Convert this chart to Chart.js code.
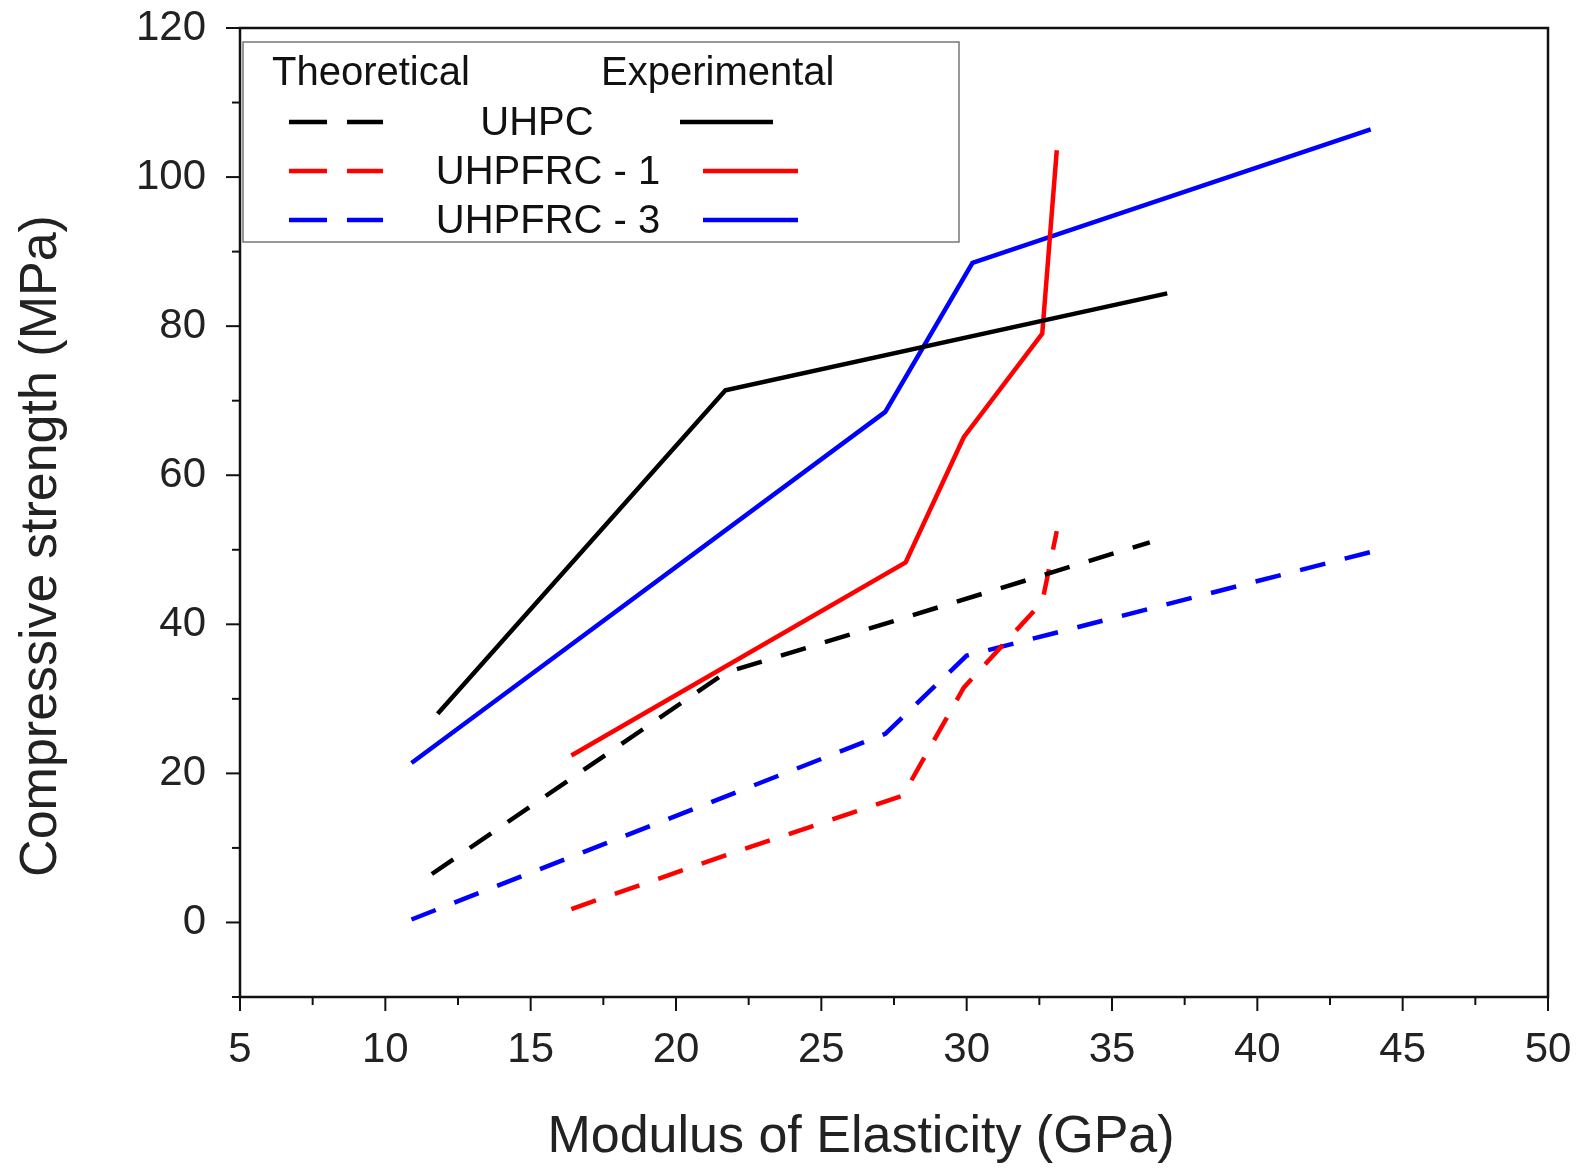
<!DOCTYPE html>
<html>
<head>
<meta charset="utf-8">
<script src="https://cdn.jsdelivr.net/npm/chart.js@4.4.0/dist/chart.umd.min.js"></script>
<style>
  html, body { margin: 0; padding: 0; background: #fff; }
  #wrap { width: 1579px; height: 1170px; }
</style>
</head>
<body>
<div id="wrap"><canvas id="strengthChart"></canvas></div>
<script>
// modulus of elasticity (GPa) and compressive strength (MPa)
var expUhpcE = [11.8, 21.7, 36.9];
var expUhpcF = [28.0, 71.4, 84.4];
var expFrc1E = [16.4, 27.9, 29.9, 32.6, 33.1];
var expFrc1F = [22.4, 48.3, 65.1, 79.0, 103.6];
var expFrc3E = [10.9, 27.2, 30.2, 43.9];
var expFrc3F = [21.4, 68.5, 88.5, 106.4];

var thUhpcE = [11.6, 21.7, 36.3];
var thUhpcF = [6.5, 33.5, 51.0];
var thFrc1E = [16.4, 21.7, 27.8, 29.9, 32.6, 33.1];
var thFrc1F = [1.8, 9.0, 17.0, 31.5, 43.0, 52.5];
var thFrc3E = [10.9, 27.2, 30.0, 43.9];
var thFrc3F = [0.4, 25.3, 35.8, 49.7];

var xTicks = [5, 10, 15, 20, 25, 30, 35, 40, 45, 50];
var yTicks = [0, 20, 40, 60, 80, 100, 120];

var FONT = 'Liberation Sans, Arial, sans-serif';

function pts(xs, ys) {
    return xs.map(function (x, i) { return { x: x, y: ys[i] }; });
}

function series(label, xs, ys, color, dashed) {
    return {
        label: label,
        data: pts(xs, ys),
        borderColor: color,
        borderWidth: 4.5,
        borderDash: dashed ? [26, 20] : [],
        pointRadius: 0,
        showLine: true,
        tension: 0,
        fill: false
    };
}

// axis frame, major/minor ticks, axis titles and the two-column legend
var decorations = {
    id: 'decorations',
    afterDraw: function (chart) {
        var c = chart.ctx, a = chart.chartArea;
        var xs = chart.scales.x, ys = chart.scales.y;
        c.save();
        c.strokeStyle = '#111';
        c.lineWidth = 2.5;
        c.strokeRect(a.left, a.top, a.right - a.left, a.bottom - a.top);
        c.lineWidth = 2;
        for (var v = 5; v <= 50; v += 2.5) {
            var px = xs.getPixelForValue(v);
            var len = (v % 5 === 0) ? 14 : 8;
            c.beginPath(); c.moveTo(px, a.bottom); c.lineTo(px, a.bottom + len); c.stroke();
        }
        for (var w = -10; w <= 120; w += 10) {
            var py = ys.getPixelForValue(w);
            var l2 = (w % 20 === 0) ? 14 : 8;
            c.beginPath(); c.moveTo(a.left, py); c.lineTo(a.left - l2, py); c.stroke();
        }

        c.fillStyle = '#222';
        c.font = '52px ' + FONT;
        c.textAlign = 'center';
        c.textBaseline = 'middle';
        c.fillText('Modulus of Elasticity (GPa)', 861, 1138);
        c.save();
        c.translate(42, 546);
        c.rotate(-Math.PI / 2);
        c.fillText('Compressive strength (MPa)', 0, 0);
        c.restore();

        // legend box
        var bx = a.left + 3, by = 42, bw = 716, bh = 200;
        c.fillStyle = '#fff';
        c.fillRect(bx, by, bw, bh);
        c.strokeStyle = '#777';
        c.lineWidth = 1.5;
        c.strokeRect(bx, by, bw, bh);

        c.fillStyle = '#111';
        c.font = '40px ' + FONT;
        c.textBaseline = 'middle';
        c.textAlign = 'left';
        c.fillText('Theoretical', 272, 74);
        c.fillText('Experimental', 601, 74);

        var rows = chart.data.datasets.slice(0, 3);
        var rowY = [122, 171, 220];
        var labelX = [537, 548, 548];
        var solidX = [[680, 773], [703, 798], [703, 798]];
        c.lineWidth = 4.5;
        rows.forEach(function (ds, i) {
            var y = rowY[i];
            c.strokeStyle = ds.borderColor;
            c.beginPath(); c.moveTo(289, y); c.lineTo(327, y); c.stroke();
            c.beginPath(); c.moveTo(347, y); c.lineTo(383, y); c.stroke();
            c.beginPath(); c.moveTo(solidX[i][0], y); c.lineTo(solidX[i][1], y); c.stroke();
            c.textAlign = 'center';
            c.fillStyle = '#111';
            c.fillText(ds.label, labelX[i], y + 2);
        });
        c.restore();
    }
};

var ctx = document.getElementById('strengthChart').getContext('2d');
var strengthChart = new Chart(ctx, {
    type: 'scatter',
    data: {
        datasets: [
            series('UHPC', thUhpcE, thUhpcF, '#000000', true),
            series('UHPFRC - 1', thFrc1E, thFrc1F, '#ff0000', true),
            series('UHPFRC - 3', thFrc3E, thFrc3F, '#0000ff', true),
            series('UHPC exp', expUhpcE, expUhpcF, '#000000', false),
            series('UHPFRC - 1 exp', expFrc1E, expFrc1F, '#ff0000', false),
            series('UHPFRC - 3 exp', expFrc3E, expFrc3F, '#0000ff', false)
        ]
    },
    options: {
        responsive: true,
        maintainAspectRatio: false,
        animation: false,
        layout: { padding: { top: 28, right: 31, bottom: 8, left: 0 } },
        plugins: {
            legend: { display: false },
            tooltip: { enabled: false }
        },
        scales: {
            x: {
                type: 'linear',
                min: 5,
                max: 50,
                afterBuildTicks: function (scale) {
                    scale.ticks = xTicks.map(function (v) { return { value: v }; });
                },
                afterFit: function (scale) {
                    scale.height = 165;
                    scale.paddingLeft = 0;
                    scale.paddingRight = 0;
                },
                grid: { drawOnChartArea: false, tickLength: 14, tickColor: 'rgba(0,0,0,0)' },
                border: { display: false },
                ticks: {
                    maxRotation: 0,
                    padding: 14,
                    color: '#222',
                    font: { family: FONT, size: 42 }
                },
                title: { display: false }
            },
            y: {
                type: 'linear',
                min: -10,
                max: 120,
                afterBuildTicks: function (scale) {
                    scale.ticks = yTicks.map(function (v) { return { value: v }; });
                },
                afterFit: function (scale) {
                    scale.width = 240;
                    scale.paddingTop = 0;
                    scale.paddingBottom = 0;
                },
                grid: { drawOnChartArea: false, tickLength: 14, tickColor: 'rgba(0,0,0,0)' },
                border: { display: false },
                ticks: {
                    padding: 20,
                    color: '#222',
                    font: { family: FONT, size: 42 }
                },
                title: { display: false }
            }
        }
    },
    plugins: [decorations]
});
</script>
</body>
</html>
